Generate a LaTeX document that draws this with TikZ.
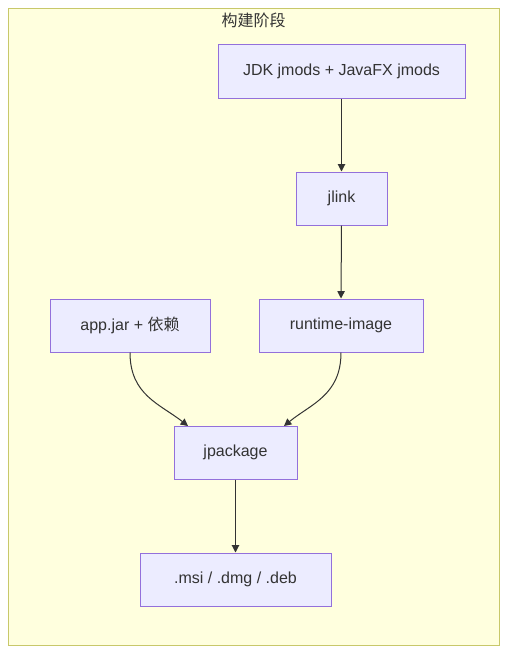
\documentclass[tikz,border=0pt]{standalone}
\usepackage{fontspec}
\setmainfont{Liberation Sans}
\newfontfamily\cjk{Noto Sans CJK SC}
\usetikzlibrary{arrows.meta,calc}
\definecolor{clfill}{HTML}{FFFFDE}
\definecolor{clline}{HTML}{C8C86A}
\definecolor{ndfill}{HTML}{ECECFF}
\definecolor{ndline}{HTML}{9370DB}
\definecolor{txt}{HTML}{333333}
\tikzset{
  box/.style={draw=ndline, fill=ndfill, line width=0.75pt, text=txt, font=\fontsize{12}{14}\selectfont, inner sep=0pt, anchor=center},
  edge/.style={draw=txt, line width=0.75pt, -{Triangle[length=5.5pt,width=5.5pt]}},
}
\begin{document}
\begin{tikzpicture}[x=0.75pt,y=-0.75pt]
\useasboundingbox (0,0) rectangle (515,661);
\fill[white] (0,0) rectangle (515,661);
\draw[draw=clline, fill=clfill, line width=0.75pt] (8,8) rectangle (499,645);
\node[text=txt, font=\cjk\fontsize{12}{14}\selectfont] (title) at (253.5,20.5) {构建阶段};
\node[box, minimum width=185.25pt, minimum height=40.5pt] (jdk) at (341.5,71) {JDK jmods + JavaFX jmods};
\node[box, minimum width=68.25pt, minimum height=39.75pt] (jlink) at (341.5,198.5) {jlink};
\node[box, minimum width=120pt, minimum height=39.75pt] (app) at (130,325.5) {app.jar + {\cjk 依赖}};
\node[box, minimum width=123pt, minimum height=39.75pt] (rt) at (341,325.5) {runtime-image};
\node[box, minimum width=92.25pt, minimum height=39.75pt] (jp) at (235.5,452.5) {jpackage};
\node[box, minimum width=143.25pt, minimum height=39.75pt] (msi) at (235.5,579.5) {.msi / .dmg / .deb};
\coordinate (jpL) at (188,426);
\coordinate (jpR) at (284,426);
\draw[edge] (jdk.south) -- (jlink.north);
\draw[edge] (jlink.south) -- (rt.north);
\draw[edge] (app.south) .. controls (130,395) and (160,404) .. (jpL);
\draw[edge] (rt.south) .. controls (341,395) and (311,404) .. (jpR);
\draw[edge] (jp.south) -- (msi.north);
\end{tikzpicture}
\end{document}
